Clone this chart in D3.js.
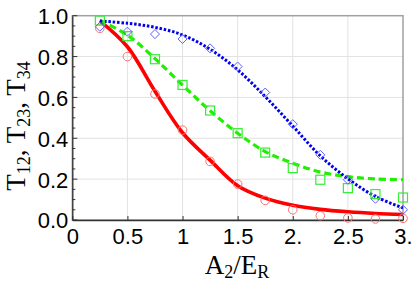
<!DOCTYPE html>
<html>
<head>
<meta charset="utf-8">
<script src="https://cdn.jsdelivr.net/npm/d3@7"></script>
<style>
  body { margin: 0; background: #fff; }
  svg { display: block; }
</style>
</head>
<body>
<script>
// transmission vs A2/ER : markers (numerics) and curves (model)
var xs = [0.25, 0.5, 0.75, 1.0, 1.25, 1.5, 1.75, 2.0, 2.25, 2.5, 2.75, 3.0];

var redPts   = [0.938, 0.80, 0.617, 0.44, 0.287, 0.176, 0.096, 0.05, 0.021, 0.01, 0.005, 0.008];
var greenPts = [0.976, 0.90, 0.787, 0.661, 0.536, 0.425, 0.33, 0.254, 0.197, 0.156, 0.127, 0.11];
var bluePts  = [0.946, 0.922, 0.91, 0.886, 0.84, 0.751, 0.624, 0.469, 0.319, 0.197, 0.104, 0.05];

var redLine   = [0.975, 0.848, 0.63, 0.427, 0.293, 0.168, 0.107, 0.072, 0.052, 0.040, 0.032, 0.027];
var greenLine = [0.977, 0.905, 0.79, 0.66, 0.535, 0.425, 0.335, 0.278, 0.235, 0.212, 0.201, 0.197];
var blueLine  = [0.974, 0.963, 0.943, 0.906, 0.836, 0.735, 0.604, 0.46, 0.314, 0.202, 0.115, 0.059];

var xTicks = [0, 0.5, 1, 1.5, 2, 2.5, 3];
var xTickLabels = ["0", "0.5", "1", "1.5", "2.", "2.5", "3."];
var yTicks = [0, 0.2, 0.4, 0.6, 0.8, 1.0];

var width = 415, height = 283;
var margin = {top: 15.7, right: 12, bottom: 63, left: 72.3};
var w = width - margin.left - margin.right,
    h = height - margin.top - margin.bottom;

var svg = d3.select("body").append("svg")
    .attr("width", width)
    .attr("height", height);

var g = svg.append("g")
    .attr("transform", "translate(" + margin.left + "," + margin.top + ")");

var x = d3.scaleLinear().domain([0, 3]).range([0, w]);
var y = d3.scaleLinear().domain([0, 1]).range([h, 0]);

// grid
g.append("g").selectAll("line").data(xTicks.slice(1, -1)).enter().append("line")
    .attr("x1", function(d) { return x(d); }).attr("x2", function(d) { return x(d); })
    .attr("y1", 0).attr("y2", h)
    .style("stroke", "#e2e2e2").style("stroke-width", 1);
g.append("g").selectAll("line").data(yTicks.slice(1, -1)).enter().append("line")
    .attr("y1", function(d) { return y(d); }).attr("y2", function(d) { return y(d); })
    .attr("x1", 0).attr("x2", w)
    .style("stroke", "#e2e2e2").style("stroke-width", 1);

// frame (top / right gray)
g.append("rect")
    .attr("x", 0).attr("y", 0).attr("width", w).attr("height", h)
    .style("fill", "none").style("stroke", "#a0a0a0").style("stroke-width", 1.5);

// minor y ticks
var minor = d3.range(0, 1.0001, 0.05);
g.append("g").selectAll("line").data(minor).enter().append("line")
    .attr("x1", 0).attr("x2", function(d, i) { return i % 4 == 0 ? 5 : 3; })
    .attr("y1", function(d) { return y(d); }).attr("y2", function(d) { return y(d); })
    .style("stroke", "#333").style("stroke-width", 1);

// axes
var yAxis = d3.axisLeft(y).tickValues(yTicks).tickSize(0).tickPadding(4)
    .tickFormat(d3.format(".1f"));
var xAxis = d3.axisBottom(x).tickValues(xTicks).tickSizeInner(-4).tickSizeOuter(0)
    .tickPadding(8).tickFormat(function(d, i) { return xTickLabels[i]; });

var ya = g.append("g").call(yAxis);
var xa = g.append("g").attr("transform", "translate(0," + h + ")").call(xAxis);
[ya, xa].forEach(function(a) {
  a.select(".domain").style("stroke", "#333").style("stroke-width", 1.3);
  a.selectAll(".tick line").style("stroke", "#333");
  a.selectAll("text")
    .style("font-family", "'Liberation Sans', Arial, sans-serif")
    .style("font-size", "22px")
    .style("fill", "#000");
});
ya.selectAll("text").attr("dy", "0.36em");

// curves
var line = d3.line()
    .x(function(d) { return x(d[0]); })
    .y(function(d) { return y(d[1]); })
    .curve(d3.curveCatmullRom.alpha(0.5));

function pairs(vals) { return xs.map(function(v, i) { return [v, vals[i]]; }); }

var clip = g.append("clipPath").attr("id", "clip").append("rect")
    .attr("width", w).attr("height", h);

var curves = g.append("g").attr("clip-path", "url(#clip)");

curves.append("path").datum(pairs(redLine)).attr("d", line)
    .style("fill", "none").style("stroke", "#ff0000").style("stroke-width", 3.6);
curves.append("path").datum(pairs(greenLine)).attr("d", line)
    .style("fill", "none").style("stroke", "#22ee00").style("stroke-width", 3.2)
    .style("stroke-dasharray", "7,4");
curves.append("path").datum(pairs(blueLine)).attr("d", line)
    .style("fill", "none").style("stroke", "#0000ee").style("stroke-width", 3)
    .style("stroke-dasharray", "2.5,1.8");

// markers
var mk = g.append("g");
mk.selectAll("circle").data(pairs(redPts)).enter().append("circle")
    .attr("cx", function(d) { return x(d[0]); })
    .attr("cy", function(d) { return y(d[1]); })
    .attr("r", 4.3)
    .style("fill", "none").style("stroke", "#ff7070").style("stroke-width", 1);

mk.selectAll("rect.sq").data(pairs(greenPts)).enter().append("rect")
    .attr("class", "sq")
    .attr("x", function(d) { return x(d[0]) - 4.5; })
    .attr("y", function(d) { return y(d[1]) - 4.5; })
    .attr("width", 9).attr("height", 9)
    .style("fill", "none").style("stroke", "#33ee33").style("stroke-width", 1.2);

var diamond = d3.symbol().type(d3.symbolDiamond2).size(52);
mk.selectAll("path.dm").data(pairs(bluePts)).enter().append("path")
    .attr("class", "dm")
    .attr("transform", function(d) { return "translate(" + x(d[0]) + "," + y(d[1]) + ")"; })
    .attr("d", diamond)
    .style("fill", "none").style("stroke", "#6060ff").style("stroke-width", 1);

// axis labels
var serif = "'Liberation Serif', 'Times New Roman', serif";
var xl = svg.append("text")
    .attr("x", 237).attr("y", 274)
    .attr("text-anchor", "middle")
    .style("font-family", serif).style("font-size", "27px");
xl.append("tspan").text("A");
xl.append("tspan").attr("dy", 4).style("font-size", "18px").text("2");
xl.append("tspan").attr("dy", -4).text("/E");
xl.append("tspan").attr("dy", 4).style("font-size", "18px").text("R");

var yl = svg.append("text")
    .attr("transform", "translate(25,126) rotate(-90)")
    .attr("text-anchor", "middle")
    .style("font-family", serif).style("font-size", "27px");
[["T", "12", ", "], ["T", "23", ", "], ["T", "34", ""]].forEach(function(p) {
  yl.append("tspan").text(p[0]);
  yl.append("tspan").attr("dy", 5).style("font-size", "18px").text(p[1]);
  yl.append("tspan").attr("dy", -5).text(p[2]);
});
</script>
</body>
</html>
